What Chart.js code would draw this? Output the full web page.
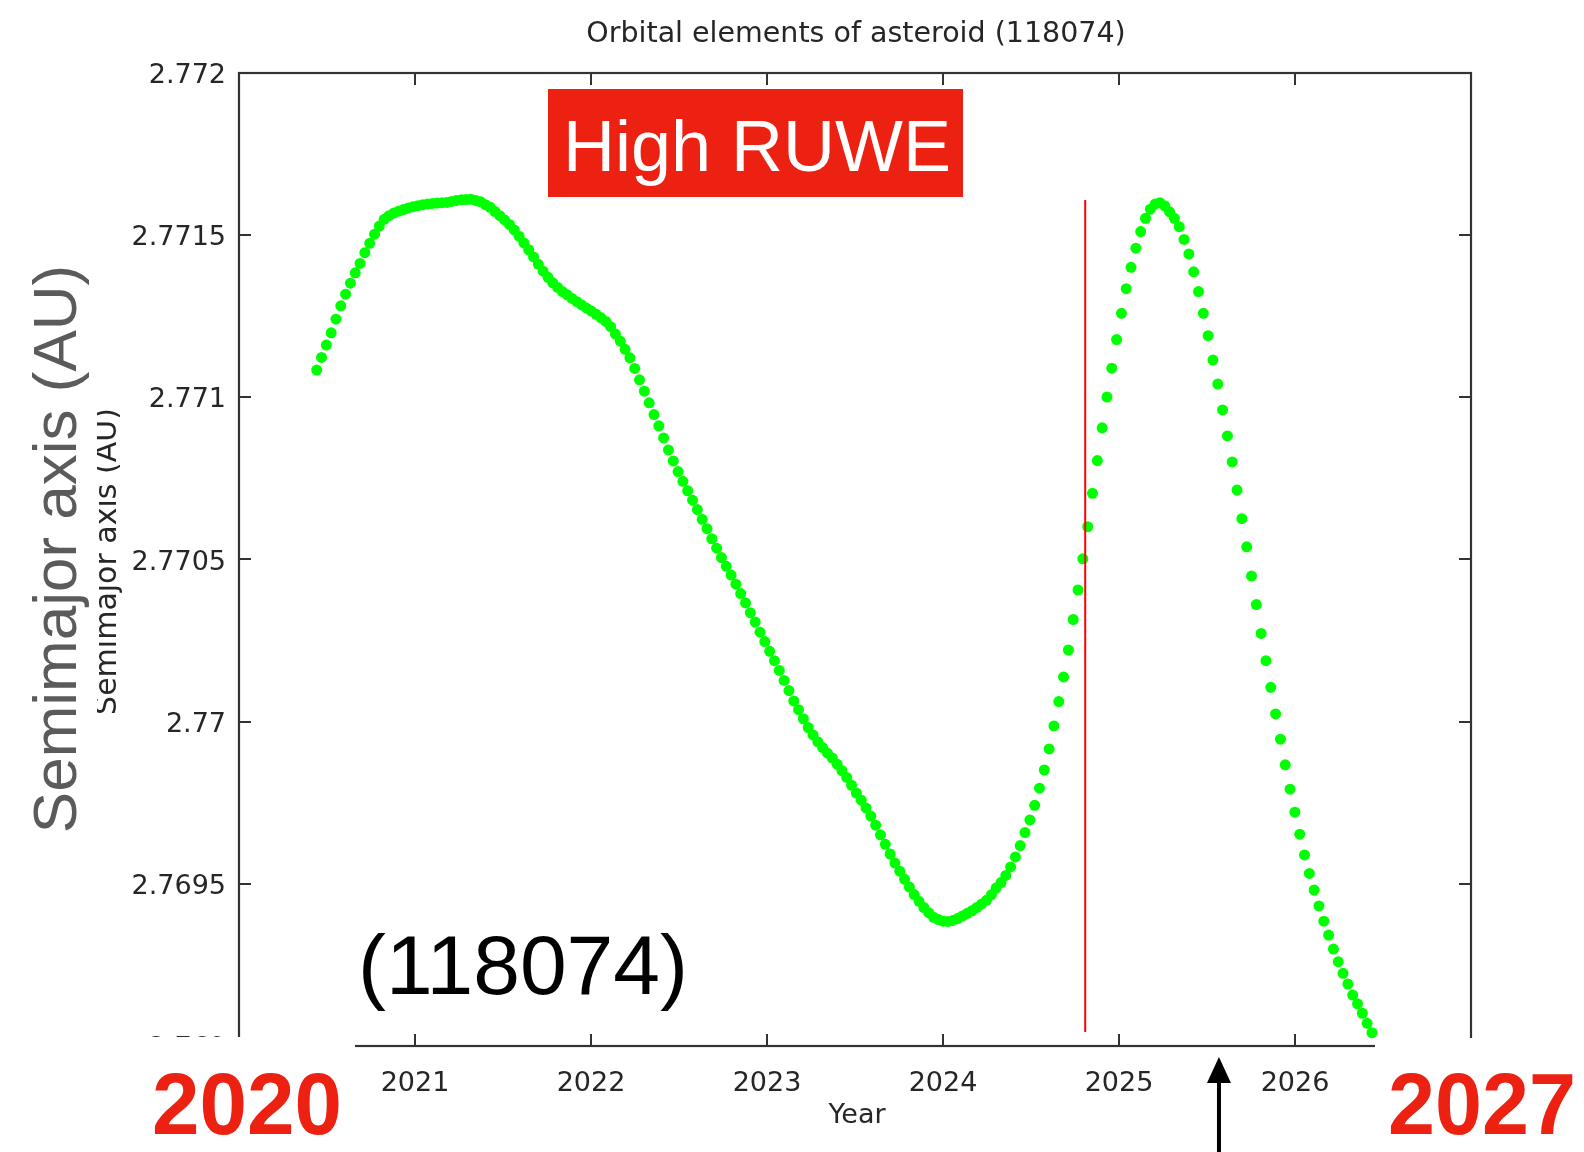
<!DOCTYPE html>
<html>
<head>
<meta charset="utf-8">
<title>Orbital elements of asteroid (118074)</title>
<script src="https://cdn.jsdelivr.net/npm/chart.js@4.4.1/dist/chart.umd.min.js"></script>
<style>
  html, body { margin: 0; padding: 0; background: #fff; }
  #wrap { position: relative; width: 1584px; height: 1152px; }
</style>
</head>
<body>
<div id="wrap"><canvas id="chart" width="1584" height="1152"></canvas></div>
<script>
// Ephemeris sampling: first epoch (decimal year) and step between samples
const FIRST_EPOCH = 2020.4415;
const STEP_DAYS = 10;

// Osculating semimajor axis (AU), one value per 10-day step
const SEMI_MAJOR_AXIS = [
  2.771084, 2.771123, 2.771161, 2.771199, 2.771241, 2.771282, 2.771318, 2.771352, 2.771384, 2.771413,
  2.771446, 2.771475, 2.771503, 2.771528, 2.771549, 2.771560, 2.771568, 2.771574, 2.771579, 2.771584,
  2.771588, 2.771591, 2.771594, 2.771596, 2.771598, 2.771599, 2.771600, 2.771601, 2.771604, 2.771607,
  2.771609, 2.771610, 2.771611, 2.771607, 2.771603, 2.771594, 2.771586, 2.771573, 2.771560, 2.771547,
  2.771533, 2.771516, 2.771497, 2.771476, 2.771455, 2.771433, 2.771410, 2.771389, 2.771370, 2.771353,
  2.771339, 2.771326, 2.771316, 2.771305, 2.771295, 2.771285, 2.771275, 2.771266, 2.771256, 2.771245,
  2.771234, 2.771218, 2.771195, 2.771173, 2.771148, 2.771122, 2.771089, 2.771054, 2.771019, 2.770983,
  2.770947, 2.770912, 2.770875, 2.770838, 2.770804, 2.770771, 2.770741, 2.770712, 2.770683, 2.770654,
  2.770624, 2.770595, 2.770564, 2.770535, 2.770506, 2.770479, 2.770452, 2.770424, 2.770395, 2.770366,
  2.770336, 2.770307, 2.770276, 2.770247, 2.770217, 2.770188, 2.770158, 2.770127, 2.770096, 2.770064,
  2.770037, 2.770009, 2.769982, 2.769959, 2.769938, 2.769920, 2.769903, 2.769888, 2.769869, 2.769849,
  2.769828, 2.769804, 2.769780, 2.769758, 2.769734, 2.769709, 2.769681, 2.769651, 2.769622, 2.769592,
  2.769564, 2.769539, 2.769514, 2.769490, 2.769467, 2.769446, 2.769427, 2.769411, 2.769397, 2.769390,
  2.769385, 2.769384, 2.769387, 2.769393, 2.769401, 2.769409, 2.769417, 2.769427, 2.769438, 2.769449,
  2.769466, 2.769487, 2.769504, 2.769526, 2.769552, 2.769583, 2.769618, 2.769658, 2.769697, 2.769742,
  2.769795, 2.769851, 2.769916, 2.769987, 2.770062, 2.770138, 2.770221, 2.770315, 2.770406, 2.770502,
  2.770601, 2.770704, 2.770805, 2.770906, 2.771001, 2.771090, 2.771178, 2.771259, 2.771335, 2.771401,
  2.771460, 2.771511, 2.771552, 2.771580, 2.771596, 2.771600, 2.771590, 2.771572, 2.771552, 2.771526,
  2.771487, 2.771442, 2.771387, 2.771326, 2.771259, 2.771190, 2.771115, 2.771041, 2.770961, 2.770881,
  2.770801, 2.770714, 2.770626, 2.770539, 2.770449, 2.770361, 2.770272, 2.770188, 2.770106, 2.770024,
  2.769946, 2.769867, 2.769792, 2.769721, 2.769653, 2.769589, 2.769532, 2.769481, 2.769432, 2.769385,
  2.769342, 2.769299, 2.769260, 2.769224, 2.769191, 2.769157, 2.769130, 2.769101, 2.769070, 2.769041
];

const YEAR_TICKS = [2020, 2021, 2022, 2023, 2024, 2025, 2026, 2027];
const YEAR_LABELS = ['2020', '2021', '2022', '2023', '2024', '2025', '2026', '2027'];
const AU_TICKS = [2.769, 2.7695, 2.77, 2.7705, 2.771, 2.7715, 2.772];
const AU_LABELS = ['2.769', '2.7695', '2.77', '2.7705', '2.771', '2.7715', '2.772'];

// Red marker line (epoch, and AU range it spans)
const MARK_EPOCH = 2024.808;
const MARK_FROM = 2.769043;
const MARK_TO = 2.7716085;
// Epoch pointed at by the arrow below the axis
const ARROW_EPOCH = 2025.568;

const RED = '#ec2111';
const AXIS = '#333333';
const TEXT = '#262626';

const points = SEMI_MAJOR_AXIS.map((a, i) => ({ x: FIRST_EPOCH + i * STEP_DAYS / 365.25, y: a }));

function tickPositions(values) {
  return (scale) => { scale.ticks = values.map(v => ({ value: v })); };
}

// gnuplot-like frame with inward ticks, plus the annotations drawn over the plot
const decorations = {
  id: 'decorations',
  afterDraw(chart) {
    const { ctx, chartArea: a, scales: { x, y } } = chart;
    ctx.save();

    // marker line
    const mx = x.getPixelForValue(MARK_EPOCH);
    ctx.strokeStyle = '#ff0000';
    ctx.lineWidth = 2;
    ctx.beginPath();
    ctx.moveTo(mx, y.getPixelForValue(MARK_TO));
    ctx.lineTo(mx, y.getPixelForValue(MARK_FROM));
    ctx.stroke();

    // frame
    ctx.strokeStyle = AXIS;
    ctx.lineWidth = 2.2;
    ctx.strokeRect(a.left, a.top, a.right - a.left, a.bottom - a.top);

    // inward ticks on all four sides
    const tl = 12;
    ctx.lineWidth = 2;
    ctx.beginPath();
    YEAR_TICKS.forEach(v => {
      const px = Math.round(x.getPixelForValue(v));
      ctx.moveTo(px, a.bottom); ctx.lineTo(px, a.bottom - tl);
      ctx.moveTo(px, a.top); ctx.lineTo(px, a.top + tl);
    });
    AU_TICKS.forEach(v => {
      const py = Math.round(y.getPixelForValue(v));
      ctx.moveTo(a.left, py); ctx.lineTo(a.left + tl, py);
      ctx.moveTo(a.right, py); ctx.lineTo(a.right - tl, py);
    });
    ctx.stroke();

    // blank corners below the axis
    ctx.fillStyle = '#ffffff';
    ctx.fillRect(0, a.bottom - 9, 355, 200);
    ctx.fillRect(1375, a.bottom - 8, 300, 200);

    // title and axis titles
    ctx.fillStyle = TEXT;
    ctx.font = '28.5px "DejaVu Sans"';
    ctx.textAlign = 'center';
    ctx.textBaseline = 'alphabetic';
    ctx.fillText('Orbital elements of asteroid (118074)', (a.left + a.right) / 2 + 1, 42);
    ctx.font = '27px "DejaVu Sans"';
    ctx.textBaseline = 'middle';
    ctx.fillText('Year', (a.left + a.right) / 2 + 2, 1116);

    ctx.save();
    ctx.translate(116, (a.top + a.bottom) / 2 + 2);
    ctx.rotate(-Math.PI / 2);
    ctx.font = '30px "DejaVu Sans"';
    ctx.textBaseline = 'alphabetic';
    ctx.fillText('Semimajor axis (AU)', 0, 0);
    ctx.restore();

    // large axis caption on its own white panel
    ctx.fillStyle = '#ffffff';
    ctx.fillRect(0, 240, 97, 620);
    ctx.save();
    ctx.translate(76, 549);
    ctx.rotate(-Math.PI / 2);
    ctx.fillStyle = '#5b5b5b';
    ctx.font = '62px "Liberation Sans"';
    ctx.textAlign = 'center';
    ctx.textBaseline = 'alphabetic';
    ctx.fillText('Semimajor axis (AU)', 0, 0);
    ctx.restore();

    // "High RUWE" badge
    ctx.fillStyle = RED;
    ctx.fillRect(548, 89, 415, 108);
    ctx.fillStyle = '#ffffff';
    ctx.font = '72px "Liberation Sans"';
    ctx.textAlign = 'left';
    ctx.textBaseline = 'alphabetic';
    ctx.fillText('High RUWE', 563, 171);

    // asteroid number
    ctx.fillStyle = '#000000';
    ctx.font = '84px "Liberation Sans"';
    ctx.fillText('(118074)', 358, 994, 334);

    // range years
    ctx.fillStyle = RED;
    ctx.font = 'bold 88px "Liberation Sans"';
    ctx.fillText('2020', 152, 1134, 190);
    ctx.fillText('2027', 1388, 1134, 188);

    // arrow
    const ax = x.getPixelForValue(ARROW_EPOCH);
    ctx.fillStyle = '#000000';
    ctx.fillRect(ax - 2, 1078, 4, 80);
    ctx.beginPath();
    ctx.moveTo(ax, 1057);
    ctx.lineTo(ax - 12, 1083);
    ctx.lineTo(ax + 12, 1083);
    ctx.closePath();
    ctx.fill();

    ctx.restore();
  }
};

new Chart(document.getElementById('chart'), {
  type: 'scatter',
  data: {
    datasets: [{
      label: 'a',
      data: points,
      backgroundColor: '#00ff00',
      borderWidth: 0,
      pointRadius: 5.5,
      pointHoverRadius: 5.5
    }]
  },
  options: {
    responsive: false,
    animation: false,
    events: [],
    layout: { padding: { left: 0, right: 113, top: 73, bottom: 0 } },
    plugins: {
      legend: { display: false },
      tooltip: { enabled: false },
      title: { display: false }
    },
    scales: {
      x: {
        type: 'linear',
        position: 'bottom',
        min: 2020,
        max: 2027,
        afterBuildTicks: tickPositions(YEAR_TICKS),
        afterFit: (s) => { s.height = 106; },
        grid: { display: false, drawTicks: false },
        border: { display: false },
        ticks: {
          autoSkip: false,
          maxRotation: 0,
          padding: 22,
          color: TEXT,
          font: { family: 'DejaVu Sans', size: 27 },
          callback: (v) => YEAR_LABELS[YEAR_TICKS.indexOf(v)]
        }
      },
      y: {
        type: 'linear',
        position: 'left',
        min: 2.769,
        max: 2.772,
        afterBuildTicks: tickPositions(AU_TICKS),
        afterFit: (s) => { s.width = 239; },
        grid: { display: false, drawTicks: false },
        border: { display: false },
        ticks: {
          autoSkip: false,
          padding: 13,
          labelOffset: 3,
          color: TEXT,
          font: { family: 'DejaVu Sans', size: 27 },
          callback: (v) => AU_LABELS[AU_TICKS.findIndex(t => Math.abs(t - v) < 1e-9)]
        }
      }
    }
  },
  plugins: [decorations]
});
</script>
</body>
</html>
